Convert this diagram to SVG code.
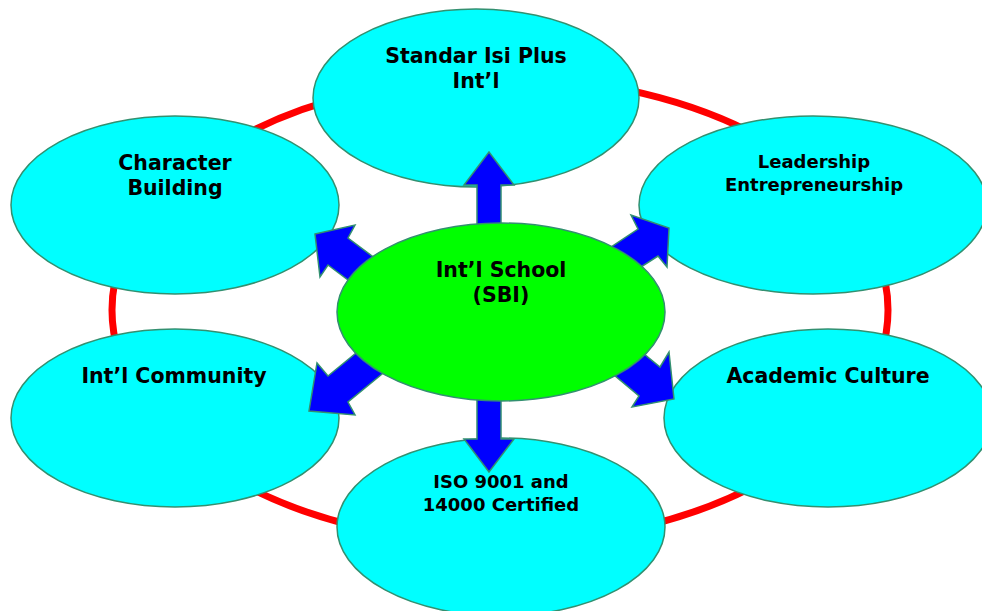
<svg xmlns="http://www.w3.org/2000/svg" width="982" height="611" viewBox="0 0 982 611">
<style>
.outer{fill:#00FFFF;stroke:#339070;stroke-width:1.5}
.center{fill:#00FF00;stroke:#339070;stroke-width:1.5}
.arrow{fill:#0000FF;stroke:#339070;stroke-width:1.5;stroke-linejoin:miter}
.ring{fill:none;stroke:#FF0000;stroke-width:7}
.lbl{font-family:"DejaVu Sans","Liberation Sans",sans-serif;font-weight:bold;fill:#000;text-anchor:middle}
.big{font-size:20.5px}
.small{font-size:18px}
</style>
<rect width="982" height="611" fill="#FFFFFF"/>
<ellipse class="ring" cx="500" cy="310" rx="388" ry="233"/>
<g id="node-standar">
<ellipse class="outer" cx="476" cy="98" rx="163" ry="89"/>
<text class="lbl big" x="476" y="63">Standar Isi Plus</text>
<text class="lbl big" x="476" y="88">Int’l</text>
</g>
<g id="node-character">
<ellipse class="outer" cx="175" cy="205" rx="164" ry="89"/>
<text class="lbl big" x="175" y="170">Character</text>
<text class="lbl big" x="175" y="195">Building</text>
</g>
<g id="node-leadership">
<ellipse class="outer" cx="813" cy="205" rx="174" ry="89"/>
<text class="lbl small" x="814" y="168">Leadership</text>
<text class="lbl small" x="814" y="191">Entrepreneurship</text>
</g>
<g id="node-community">
<ellipse class="outer" cx="175" cy="418" rx="164" ry="89"/>
<text class="lbl big" x="174" y="383">Int’l Community</text>
</g>
<g id="node-academic">
<ellipse class="outer" cx="828" cy="418" rx="164" ry="89"/>
<text class="lbl big" x="828" y="383">Academic Culture</text>
</g>
<g id="node-iso">
<ellipse class="outer" cx="501" cy="527" rx="164" ry="89"/>
<text class="lbl small" x="501" y="488">ISO 9001 and</text>
<text class="lbl small" x="501" y="511">14000 Certified</text>
</g>
<g id="connectors">
<polygon class="arrow" points="477,250 477,185 464,185 489,152 514,185 501,185 501,250"/>
<polygon class="arrow" points="477,380 477,439 464,439 489,472 514,439 501,439 501,380"/>
<polygon class="arrow" points="315,234 355,225 348,238 388,268 368,295 328,265 320,277"/>
<polygon class="arrow" points="669,228 667,267 658,256 616,283 596,257 638,229 631,215"/>
<polygon class="arrow" points="309,411 317,363 328,376 367,344 387,370 348,402 355,415"/>
<polygon class="arrow" points="674,399 669,352 660,367 621,335 601,364 639,396 632,407"/>
</g>
<g id="node-center">
<ellipse class="center" cx="501" cy="312" rx="164" ry="89"/>
<text class="lbl big" x="501" y="277">Int’l School</text>
<text class="lbl big" x="501" y="302">(SBI)</text>
</g>
</svg>
